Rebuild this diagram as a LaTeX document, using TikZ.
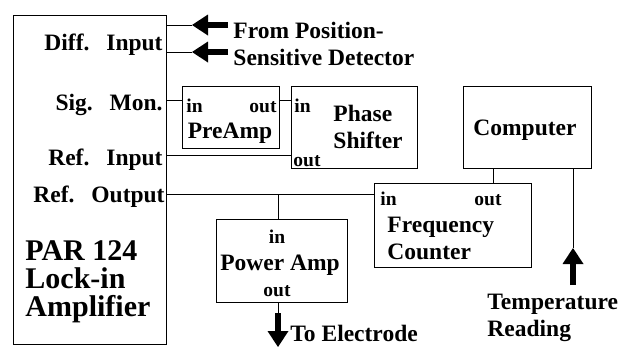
\documentclass[tikz,border=0pt]{standalone}
\usepackage{fontspec}
\setmainfont{Liberation Serif}
\usetikzlibrary{arrows.meta}
\newcommand{\wsp}{\hspace{0.72em}}

\begin{document}
\begin{tikzpicture}[x=1pt, y=-1pt,
  line width=0.9pt,
  bx/.style={draw, inner sep=0pt},
  tx/.style={inner sep=0pt, font=\fontsize{23.5}{27}\selectfont\bfseries},
  pt/.style={inner sep=0pt, font=\fontsize{19.5}{22}\selectfont\bfseries},
  bg/.style={inner sep=0pt, font=\fontsize{30}{28}\selectfont\bfseries},
  fat/.style={line width=6pt, -{Triangle[length=16pt,width=21pt,line width=0pt]}}]
  \useasboundingbox (0,0) rectangle (623,346);
  % lock-in
  \node[bx, minimum width=153pt, minimum height=329pt] (li) at (89.5,179.5) {};
  \node[tx, anchor=base east] (di) at (163,50) {Diff.\wsp Input};
  \node[tx, anchor=base east] (sm) at (163,110) {Sig.\wsp Mon.};
  \node[tx, anchor=base east] (ri) at (163,165) {Ref.\wsp Input};
  \node[tx, anchor=base east] (ro) at (165,202) {Ref.\wsp Output};
  \node[bg, anchor=north west, align=left] (par) at (25,240) {PAR 124\\Lock-in\\Amplifier};
  % preamp
  \node[bx, minimum width=97pt, minimum height=62pt] (pa) at (230.5,117) {};
  \node[pt, anchor=base west] (pai) at (186,112) {in};
  \node[pt, anchor=base east] (pao) at (277,112) {out};
  \node[tx, anchor=base] (pat) at (230,138) {PreAmp};
  % phase shifter
  \node[bx, minimum width=126pt, minimum height=82pt] (ps) at (354,127) {};
  \node[pt, anchor=base west] (psi) at (294,112) {in};
  \node[pt, anchor=base west] (pso) at (293,166) {out};
  \node[tx, anchor=north west, align=left] (pst) at (333,105) {Phase\\Shifter};
  % computer
  \node[bx, minimum width=128pt, minimum height=82pt] (pc) at (527,127) {};
  \node[tx, anchor=base] (pct) at (525,135) {Computer};
  % frequency counter
  \node[bx, minimum width=157pt, minimum height=84pt] (fc) at (452.5,225) {};
  \node[pt, anchor=base west] (fci) at (380,205) {in};
  \node[pt, anchor=base west] (fco) at (474,205) {out};
  \node[tx, anchor=north west, align=left] (fct) at (387,217) {Frequency\\Counter};
  % power amp
  \node[bx, minimum width=131pt, minimum height=83pt] (pw) at (281.5,260.5) {};
  \node[pt, anchor=base] (pwi) at (277,243) {in};
  \node[tx, anchor=base] (pwt) at (280,270) {Power Amp};
  \node[pt, anchor=base] (pwo) at (277,296) {out};
  % outside labels
  \node[tx, anchor=north west, align=left] (src) at (233,22) {From Position-\\Sensitive Detector};
  \node[tx, anchor=base west] (el) at (290,341) {To Electrode};
  \node[tx, anchor=north west, align=left] (tr) at (487,294) {Temperature\\Reading};
  % ports
  \coordinate (d1) at (192,25); \coordinate (d1t) at (228,25);
  \coordinate (d2) at (192,52); \coordinate (d2t) at (228,52);
  \coordinate (smy) at (0,100); \coordinate (riy) at (0,155);
  \coordinate (roy) at (0,194); \coordinate (tap) at (278,194);
  \coordinate (ea) at (278,313); \coordinate (et) at (278,347);
  \coordinate (ca) at (493,0);
  \coordinate (tt) at (573,248); \coordinate (tb) at (573,285);
  % wires
  \draw (li.east |- d1) -- (d1); \draw[fat] (d1t) -- (d1);
  \draw (li.east |- d2) -- (d2); \draw[fat] (d2t) -- (d2);
  \draw (li.east |- smy) -- (pa.west |- smy);
  \draw (pa.east |- smy) -- (ps.west |- smy);
  \draw (li.east |- riy) -- (ps.west |- riy);
  \draw (li.east |- roy) -- (fc.west |- roy);
  \draw (tap) -- (tap |- pw.north);
  \draw (pw.south -| tap) -- (ea); \draw[fat] (ea) -- (et);
  \draw (pc.south -| ca) -- (fc.north -| ca);
  \draw (pc.south -| tt) -- (tt); \draw[fat] (tb) -- (tt);
\end{tikzpicture}
\end{document}
